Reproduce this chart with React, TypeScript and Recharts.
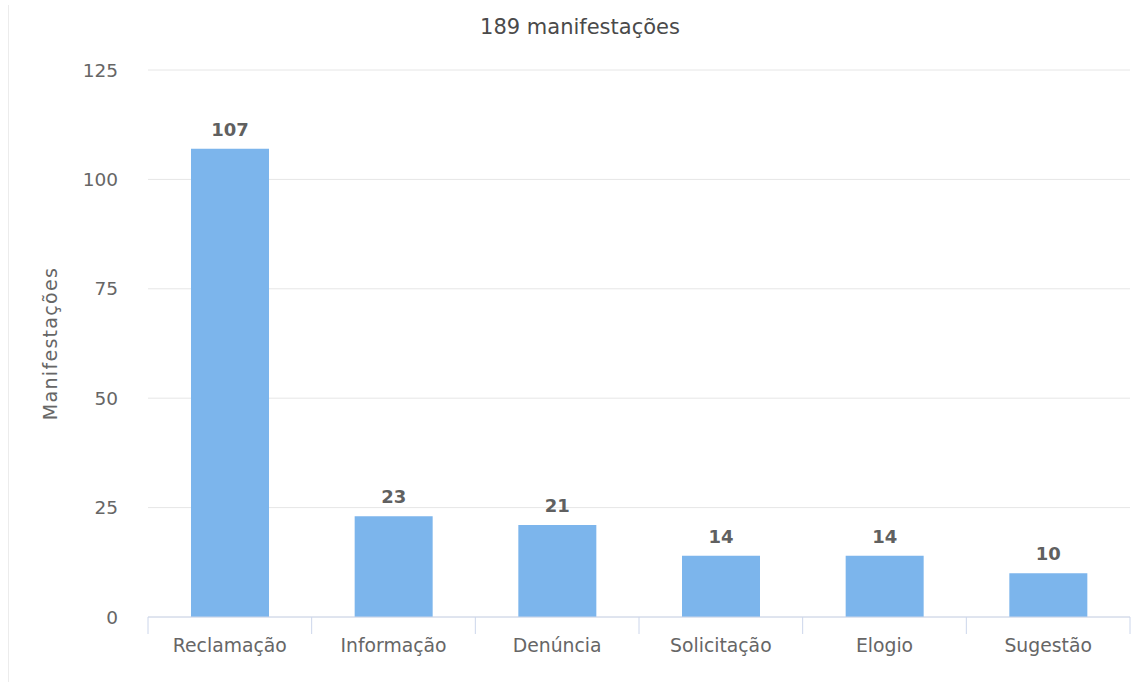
import React from "react";
import { BarChart, Bar, XAxis, YAxis, CartesianGrid, LabelList, Label } from "recharts";

const categories = ["Reclamação", "Informação", "Denúncia", "Solicitação", "Elogio", "Sugestão"];
const values = [107, 23, 21, 14, 14, 10];
const yTicks = [0, 25, 50, 75, 100, 125];
const title = "189 manifestações";
const yLabel = "Manifestações";

const data = categories.map((name, i) => ({ name, value: values[i] }));

const FONT = "'DejaVu Sans', Verdana, sans-serif";

const CategoryTick = (props: any) => {
  const { x, y, payload, index, visibleTicksCount } = props;
  const half = payload.offset || 0;
  const isLast = index === visibleTicksCount - 1;
  return (
    <g>
      <line x1={x - half} x2={x - half} y1={y} y2={y + 17} stroke="#ccd6eb" strokeWidth={1} />
      {isLast && <line x1={x + half} x2={x + half} y1={y} y2={y + 17} stroke="#ccd6eb" strokeWidth={1} />}
      <text x={x} y={y + 22} dy="0.71em" textAnchor="middle" fill="#666666" fontSize={18.8} fontFamily={FONT}>
        {payload.value}
      </text>
    </g>
  );
};

const YLabelContent = (props: any) => {
  const vb = props.viewBox || {};
  const cx = (vb.x || 0) + 50;
  const cy = (vb.y || 0) + (vb.height || 0) / 2;
  return (
    <text
      x={cx}
      y={cy}
      transform={`rotate(-90, ${cx}, ${cy})`}
      textAnchor="middle"
      dominantBaseline="central"
      fill="#666666"
      fontSize={19}
      letterSpacing={1.3}
      fontFamily={FONT}
    >
      {yLabel}
    </text>
  );
};

export default function App() {
  return (
    <div style={{ position: "absolute", left: 0, top: 0, width: 1135, height: 682, background: "#ffffff" }}>
      <div style={{ position: "absolute", left: 8, top: 5, width: 1, height: 677, background: "#ececec" }} />
      <div
        style={{
          position: "absolute",
          left: 480,
          top: 14,
          width: 200,
          textAlign: "center",
          whiteSpace: "nowrap",
          fontFamily: FONT,
          fontSize: 21,
          color: "#4a4a4a",
          lineHeight: "26px",
        }}
      >
        {title}
      </div>
      <BarChart width={1135} height={682} data={data} margin={{ top: 70, right: 5, bottom: 0, left: 0 }}>
        <CartesianGrid vertical={false} stroke="#e6e6e6" />
        <XAxis
          dataKey="name"
          height={65}
          axisLine={{ stroke: "#ccd6eb" }}
          tickLine={false}
          tickSize={0}
          tickMargin={0}
          interval={0}
          tick={<CategoryTick />}
        />
        <YAxis
          width={148}
          domain={[0, 125]}
          ticks={yTicks}
          axisLine={false}
          tickLine={false}
          tickSize={0}
          tickMargin={30}
          tick={{ fill: "#666666", fontSize: 18.5, fontFamily: FONT }}
        >
          <Label content={<YLabelContent />} />
        </YAxis>
        <Bar dataKey="value" fill="#7cb5ec" barSize={78} isAnimationActive={false}>
          <LabelList
            dataKey="value"
            position="top"
            offset={13}
            fill="#606060"
            fontSize={18}
            fontWeight="bold"
            fontFamily={FONT}
          />
        </Bar>
      </BarChart>
    </div>
  );
}
